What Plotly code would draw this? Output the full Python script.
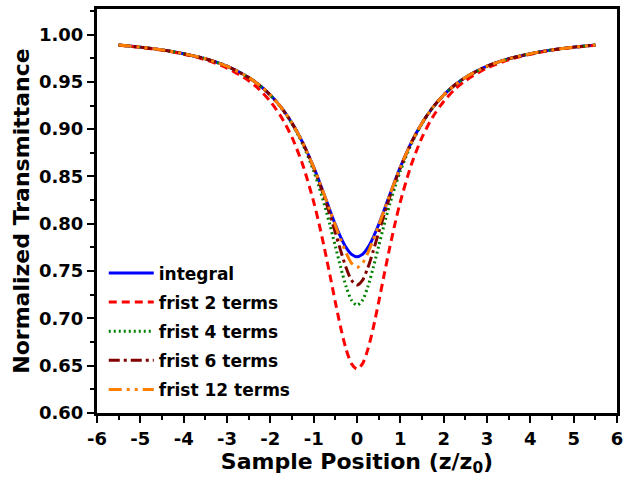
import plotly.graph_objects as go

z = [-5.5, -5.0, -4.5, -4.0, -3.5, -3.0, -2.5, -2.25, -2.0, -1.75, -1.5, -1.25, -1.0,
     -0.875, -0.75, -0.625, -0.5, -0.375, -0.25, -0.125, 0.0,
     0.125, 0.25, 0.375, 0.5, 0.625, 0.75, 0.875,
     1.0, 1.25, 1.5, 1.75, 2.0, 2.25, 2.5, 3.0, 3.5, 4.0, 4.5, 5.0, 5.5]

integral = [0.9889, 0.9867, 0.9838, 0.9798, 0.9744, 0.9665, 0.9546, 0.9464, 0.9361, 0.9230, 0.9064, 0.8855, 0.8598,
            0.8452, 0.8299, 0.8143, 0.7992, 0.7857, 0.7748, 0.7676, 0.7651,
            0.7676, 0.7748, 0.7857, 0.7992, 0.8143, 0.8299, 0.8452,
            0.8598, 0.8855, 0.9064, 0.9230, 0.9361, 0.9464, 0.9546, 0.9665, 0.9744, 0.9798, 0.9838, 0.9867, 0.9889]

first2 = [0.9887, 0.9864, 0.9834, 0.9792, 0.9733, 0.9646, 0.9512, 0.9417, 0.9293, 0.9130, 0.8912, 0.8620, 0.8232,
          0.7998, 0.7737, 0.7458, 0.7172, 0.6900, 0.6672, 0.6519, 0.6464,
          0.6519, 0.6672, 0.6900, 0.7172, 0.7458, 0.7737, 0.7998,
          0.8232, 0.8620, 0.8912, 0.9130, 0.9293, 0.9417, 0.9512, 0.9646, 0.9733, 0.9792, 0.9834, 0.9864, 0.9887]

first4 = [0.9889, 0.9867, 0.9838, 0.9798, 0.9744, 0.9664, 0.9546, 0.9464, 0.9360, 0.9228, 0.9058, 0.8839, 0.8557,
          0.8388, 0.8198, 0.7988, 0.7763, 0.7537, 0.7335, 0.7191, 0.7139,
          0.7191, 0.7335, 0.7537, 0.7763, 0.7988, 0.8198, 0.8388,
          0.8557, 0.8839, 0.9058, 0.9228, 0.9360, 0.9464, 0.9546, 0.9664, 0.9744, 0.9798, 0.9838, 0.9867, 0.9889]

first6 = [0.9889, 0.9867, 0.9838, 0.9798, 0.9744, 0.9665, 0.9546, 0.9464, 0.9361, 0.9230, 0.9064, 0.8854, 0.8592,
          0.8440, 0.8275, 0.8096, 0.7907, 0.7713, 0.7534, 0.7402, 0.7353,
          0.7402, 0.7534, 0.7713, 0.7907, 0.8096, 0.8275, 0.8440,
          0.8592, 0.8854, 0.9064, 0.9230, 0.9361, 0.9464, 0.9546, 0.9665, 0.9744, 0.9798, 0.9838, 0.9867, 0.9889]

first12 = [0.9889, 0.9867, 0.9838, 0.9798, 0.9744, 0.9665, 0.9546, 0.9464, 0.9361, 0.9230, 0.9064, 0.8855, 0.8598,
           0.8452, 0.8299, 0.8141, 0.7984, 0.7832, 0.7691, 0.7582, 0.7539,
           0.7582, 0.7691, 0.7832, 0.7984, 0.8141, 0.8299, 0.8452,
           0.8598, 0.8855, 0.9064, 0.9230, 0.9361, 0.9464, 0.9546, 0.9665, 0.9744, 0.9798, 0.9838, 0.9867, 0.9889]

names = ["integral", "frist 2 terms", "frist 4 terms", "frist 6 terms", "frist 12 terms"]
x_tickvals = [-6, -5, -4, -3, -2, -1, 0, 1, 2, 3, 4, 5, 6]
x_ticktext = ["-6", "-5", "-4", "-3", "-2", "-1", "0", "1", "2", "3", "4", "5", "6"]
y_tickvals = [0.60, 0.65, 0.70, 0.75, 0.80, 0.85, 0.90, 0.95, 1.00]
y_ticktext = ["0.60", "0.65", "0.70", "0.75", "0.80", "0.85", "0.90", "0.95", "1.00"]

series = [integral, first2, first4, first6, first12]
colors = ["#0000ff", "#ff0000", "#008000", "#800000", "#ff8000"]
dashes = ["solid", "8px,5px", "2px,3px", "11px,4px,3px,4px", "13px,5px,3px,5px,3px,5px"]

FONT = "DejaVu Sans, Arial, sans-serif"

fig = go.Figure()
for i, (name, ys, c, d) in enumerate(zip(names, series, colors, dashes)):
    fig.add_trace(go.Scatter(x=z, y=ys, mode="lines", name=name, legendgroup="g%d" % i,
                             line=dict(color=c, width=3, dash=d, shape="spline", smoothing=0.8)))

fig.update_layout(
    width=629, height=482,
    margin=dict(l=97, r=6, t=8, b=69),
    paper_bgcolor="white", plot_bgcolor="white",
    font=dict(family=FONT, color="black"),
    showlegend=True,
    legend=dict(x=0.013, y=0.39, xanchor="left", yanchor="top",
                bgcolor="rgba(0,0,0,0)", borderwidth=0,
                font=dict(family=FONT, size=17, weight="bold", color="black"),
                tracegroupgap=4, itemwidth=45),
)

fig.update_xaxes(
    range=[-6, 6], tickmode="array", tickvals=x_tickvals, ticktext=x_ticktext,
    showline=True, linecolor="black", linewidth=3, mirror=True,
    ticks="outside", ticklen=7, tickwidth=2, tickcolor="black",
    minor=dict(dtick=0.5, tick0=-6, ticks="outside", ticklen=4, tickwidth=2, tickcolor="black"),
    showgrid=False, zeroline=False,
    tickfont=dict(family=FONT, size=18, weight="bold", color="black"),
    title=dict(text="Sample Position (z/z<sub>0</sub>)", standoff=6,
               font=dict(family=FONT, size=22, weight="bold", color="black")),
)
fig.update_yaxes(
    range=[0.6, 1.027], tickmode="array", tickvals=y_tickvals, ticktext=y_ticktext,
    showline=True, linecolor="black", linewidth=3, mirror=True,
    ticks="outside", ticklen=7, tickwidth=2, tickcolor="black",
    minor=dict(dtick=0.025, tick0=0.6, ticks="outside", ticklen=4, tickwidth=2, tickcolor="black"),
    showgrid=False, zeroline=False,
    tickfont=dict(family=FONT, size=18, weight="bold", color="black"),
    title=dict(text="Normalized Transmittance", standoff=4,
               font=dict(family=FONT, size=22, weight="bold", color="black")),
)

fig.write_html("out.html", config={"displayModeBar": False},
               post_script="document.body.style.margin='0';")
